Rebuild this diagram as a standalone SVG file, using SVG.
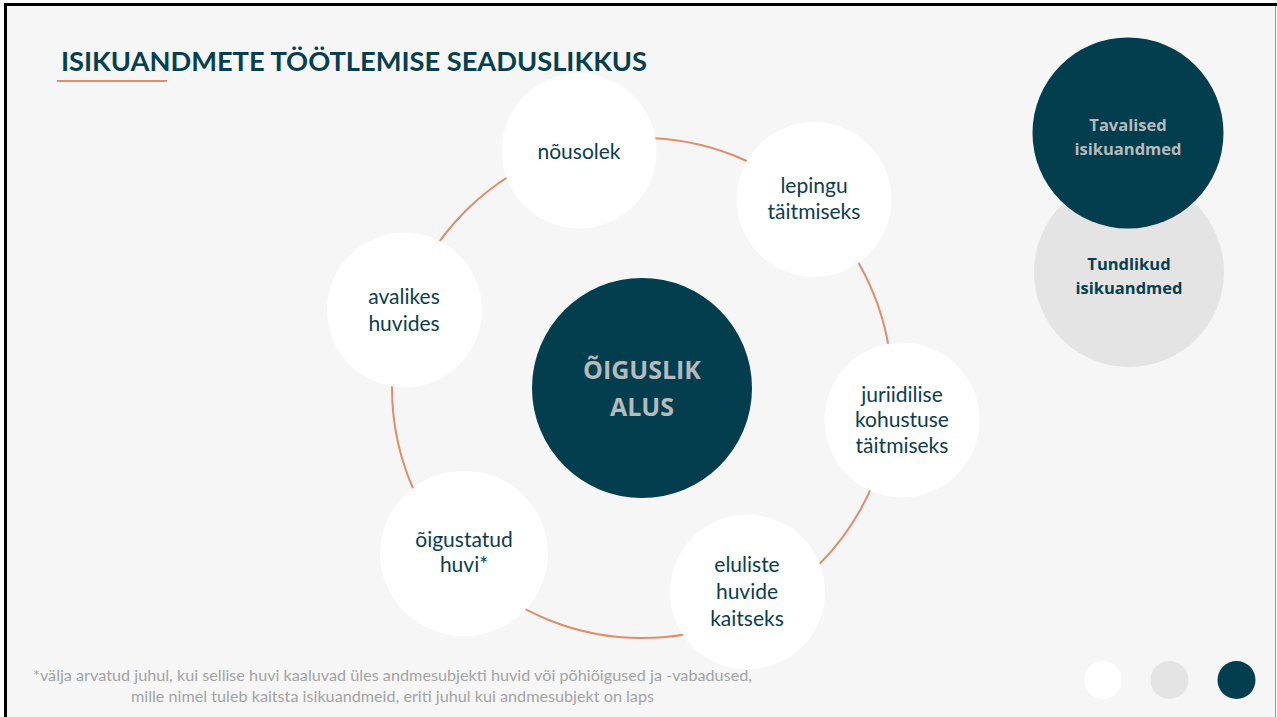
<svg xmlns="http://www.w3.org/2000/svg" width="1277" height="717" viewBox="0 0 1277 717">
<style>
.sat{fill:#ffffff}
.lbl{font-family:Lato,"Open Sans","Liberation Sans",sans-serif;font-size:21px;fill:#0b3d4e;text-anchor:middle}
.big{font-family:"Open Sans",Lato,"Liberation Sans",sans-serif;font-weight:bold;text-anchor:middle}
.ring{fill:none;stroke:#e08d6b;stroke-width:2}
</style>
<rect x="0" y="0" width="1277" height="717" fill="#ffffff"/>
<rect x="7" y="6" width="1268" height="711" fill="#f6f6f6"/>
<line x1="5.5" y1="3" x2="5.5" y2="717" stroke="#000" stroke-width="3"/>
<line x1="4" y1="4.5" x2="1277" y2="4.5" stroke="#000" stroke-width="3"/>
<line x1="1275.5" y1="6" x2="1275.5" y2="717" stroke="#9a9a9a" stroke-width="1"/>

<g id="title">
<text x="61" y="71" font-family="Lato,'Open Sans','Liberation Sans',sans-serif" font-weight="bold" font-size="27" fill="#053f50" textLength="586" lengthAdjust="spacingAndGlyphs">ISIKUANDMETE TÖÖTLEMISE SEADUSLIKKUS</text>
<line x1="57" y1="81" x2="167" y2="81" stroke="#e08d6b" stroke-width="2"/>
</g>

<g id="connectors">
<circle class="ring" cx="642" cy="388" r="250"/>
</g>

<g id="center">
<circle cx="642" cy="388" r="110" fill="#033e4f"/>
<text class="big" x="642" y="379" font-size="25" fill="#b6babd">ÕIGUSLIK</text>
<text class="big" x="642" y="416" font-size="25" fill="#b6babd">ALUS</text>
</g>

<g id="n-nousolek">
<circle class="sat" cx="579" cy="151" r="77.5"/>
<text class="lbl" x="579" y="159">nõusolek</text>
</g>
<g id="n-lepingu">
<circle class="sat" cx="814" cy="199.5" r="77.5"/>
<text class="lbl" x="814" y="193">lepingu</text>
<text class="lbl" x="814" y="219">täitmiseks</text>
</g>
<g id="n-juriidilise">
<circle class="sat" cx="902" cy="420" r="77.5"/>
<text class="lbl" x="902" y="402">juriidilise</text>
<text class="lbl" x="902" y="427">kohustuse</text>
<text class="lbl" x="902" y="453">täitmiseks</text>
</g>
<g id="n-eluliste">
<circle class="sat" cx="747.5" cy="592" r="77.5"/>
<text class="lbl" x="747" y="572">eluliste</text>
<text class="lbl" x="747" y="599">huvide</text>
<text class="lbl" x="747" y="626">kaitseks</text>
</g>
<g id="n-oigustatud">
<ellipse class="sat" cx="464" cy="553.5" rx="84" ry="82.5"/>
<text class="lbl" x="464" y="547">õigustatud</text>
<text class="lbl" x="464" y="572">huvi*</text>
</g>
<g id="n-avalikes">
<circle class="sat" cx="404.5" cy="310" r="77.5"/>
<text class="lbl" x="404" y="304">avalikes</text>
<text class="lbl" x="404" y="331">huvides</text>
</g>

<g id="legend-tundlikud">
<circle cx="1129" cy="272" r="95" fill="#e4e4e4"/>
<text class="big" x="1129" y="270" font-size="16.5" fill="#053f50">Tundlikud</text>
<text class="big" x="1129" y="294" font-size="16.5" fill="#053f50">isikuandmed</text>
</g>
<g id="legend-tavalised">
<circle cx="1128" cy="133" r="95.5" fill="#033e4f"/>
<text class="big" x="1128" y="131" font-size="16.5" fill="#b6babd">Tavalised</text>
<text class="big" x="1128" y="155" font-size="16.5" fill="#b6babd">isikuandmed</text>
</g>

<g id="footnote" font-family="Lato,'Open Sans','Liberation Sans',sans-serif" font-size="15" fill="#a3a3a3" text-anchor="middle">
<text x="392.5" y="681" textLength="719" lengthAdjust="spacingAndGlyphs">*välja arvatud juhul, kui sellise huvi kaaluvad üles andmesubjekti huvid või põhiõigused ja -vabadused,</text>
<text x="392.5" y="702" textLength="523" lengthAdjust="spacingAndGlyphs">mille nimel tuleb kaitsta isikuandmeid, eriti juhul kui andmesubjekt on laps</text>
</g>

<g id="dots">
<circle cx="1103" cy="680" r="19" fill="#ffffff"/>
<circle cx="1169.5" cy="680" r="19" fill="#e4e4e4"/>
<circle cx="1236.5" cy="680" r="19" fill="#033e4f"/>
</g>
</svg>
